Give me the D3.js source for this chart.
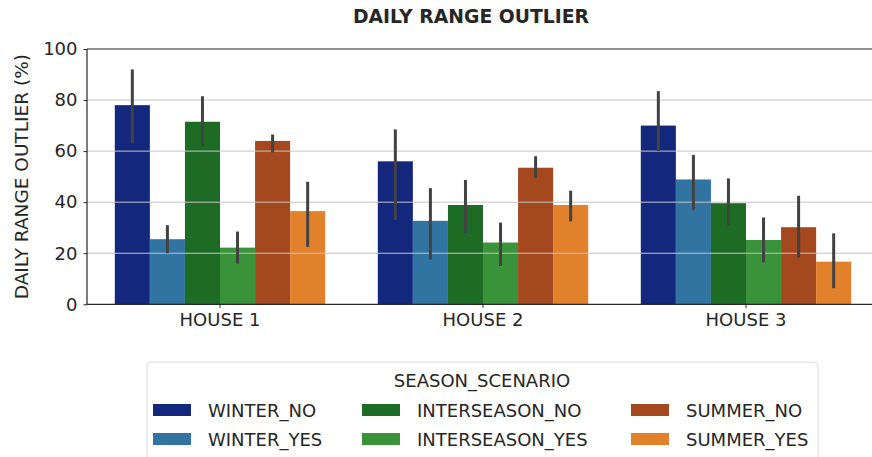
<!DOCTYPE html>
<html><head><meta charset="utf-8">
<script src="https://cdn.jsdelivr.net/npm/d3@7"></script>
<style>body{margin:0;background:#fff;} svg{display:block;} text{font-family:"DejaVu Sans",sans-serif;fill:#262626;}</style>
</head><body>
<svg id="chart" width="872" height="457"></svg>
<script>
const houses = ["HOUSE 1", "HOUSE 2", "HOUSE 3"];
const scenarios = ["WINTER_NO", "WINTER_YES", "INTERSEASON_NO", "INTERSEASON_YES", "SUMMER_NO", "SUMMER_YES"];
const colors = ["#13287c", "#3274a1", "#1e6b26", "#3a923a", "#a3481f", "#e1812c"];
const winterNo = [78, 56, 70];
const winterYes = [25.5, 32.7, 48.9];
const interseasonNo = [71.5, 38.9, 39.6];
const interseasonYes = [22.2, 24.2, 25.2];
const summerNo = [64, 53.5, 30.2];
const summerYes = [36.5, 38.9, 16.7];
const winterNoCI = [[63, 92], [33, 68.5], [60, 83.5]];
const winterYesCI = [[20, 31], [17.5, 45.5], [37, 58.5]];
const interseasonNoCI = [[62, 81.5], [28, 48.7], [31, 49.3]];
const interseasonYesCI = [[16, 28.5], [15, 32], [16.5, 34]];
const summerNoCI = [[59.5, 66.5], [49.5, 58], [18.3, 42.5]];
const summerYesCI = [[22.5, 48], [32.5, 44.5], [6.3, 27.8]];
const yTicks = [0, 20, 40, 60, 80, 100];

const seriesVals = [winterNo, winterYes, interseasonNo, interseasonYes, summerNo, summerYes];
const seriesCI = [winterNoCI, winterYesCI, interseasonNoCI, interseasonYesCI, summerNoCI, summerYesCI];
const data = [];
houses.forEach((h, i) => scenarios.forEach((s, j) => {
  data.push({house: h, scen: s, v: seriesVals[j][i], lo: seriesCI[j][i][0], hi: seriesCI[j][i][1], c: colors[j]});
}));

const svg = d3.select("#chart");
const L = 87, T = 49, B = 304.3;
const x = d3.scaleBand().domain(houses).range([88.5, 877.5]).paddingInner(0).paddingOuter(0);
const groupW = x.bandwidth() * 0.8;
const xs = d3.scaleBand().domain(scenarios).range([0, groupW]);
const y = d3.scaleLinear().domain([0, 100]).range([B, T]);
const cx = d => x(d.house) + (x.bandwidth() - groupW) / 2 + xs(d.scen);

// bars
svg.append("g").selectAll("rect").data(data).join("rect")
  .attr("x", d => cx(d))
  .attr("y", d => y(d.v))
  .attr("width", xs.bandwidth())
  .attr("height", d => y(0) - y(d.v))
  .attr("fill", d => d.c);

// grid
svg.append("g").selectAll("line").data(yTicks.filter(t => t > 0 && t < 100)).join("line")
  .attr("x1", L).attr("x2", 872).attr("y1", d => y(d)).attr("y2", d => y(d))
  .attr("stroke", "#c4c4c4").attr("stroke-width", 1);

// error bars
svg.append("g").selectAll("line").data(data).join("line")
  .attr("x1", d => cx(d) + xs.bandwidth() / 2)
  .attr("x2", d => cx(d) + xs.bandwidth() / 2)
  .attr("y1", d => y(d.lo)).attr("y2", d => y(d.hi))
  .attr("stroke", "#424242").attr("stroke-width", 3);

// axes
const yAxis = svg.append("g").attr("transform", `translate(${L},0)`)
  .call(d3.axisLeft(y).tickValues(yTicks).tickSize(3.5).tickPadding(6));
yAxis.select(".domain").remove();
yAxis.selectAll("text").style("font-size", "18px").attr("fill", "#262626");
yAxis.selectAll("line").attr("stroke", "#262626");

const xAxis = svg.append("g").attr("transform", `translate(0,${B})`)
  .call(d3.axisBottom(x).tickSize(3.5).tickPadding(5));
xAxis.select(".domain").remove();
xAxis.selectAll("text").style("font-size", "18px").attr("fill", "#262626");
xAxis.selectAll("line").attr("stroke", "#262626");

// spines
svg.append("line").attr("x1", L).attr("x2", L).attr("y1", T).attr("y2", B).attr("stroke", "#262626").attr("stroke-width", 1.2);
svg.append("line").attr("x1", L).attr("x2", 872).attr("y1", T).attr("y2", T).attr("stroke", "#262626").attr("stroke-width", 1.2);
svg.append("line").attr("x1", L).attr("x2", 872).attr("y1", B).attr("y2", B).attr("stroke", "#262626").attr("stroke-width", 1.2);

// title & labels
svg.append("text").attr("x", 471).attr("y", 23).attr("text-anchor", "middle")
  .style("font-size", "18.8px").style("font-weight", "bold").text("DAILY RANGE OUTLIER");
svg.append("text").attr("transform", `translate(28,${(T + B) / 2}) rotate(-90)`).attr("text-anchor", "middle")
  .style("font-size", "18.5px").text("DAILY RANGE OUTLIER (%)");

// legend
const lg = svg.append("g");
lg.append("rect").attr("x", 147).attr("y", 362).attr("width", 671).attr("height", 120).attr("rx", 4)
  .attr("fill", "#fff").attr("stroke", "#dcdcdc").attr("stroke-width", 1);
lg.append("text").attr("x", 482).attr("y", 387).attr("text-anchor", "middle").style("font-size", "18px").text("SEASON_SCENARIO");
const colX = [153, 362, 631];
const rowY = [410, 439];
scenarios.forEach((s, j) => {
  const col = Math.floor(j / 2), row = j % 2;
  lg.append("rect").attr("x", colX[col]).attr("y", rowY[row] - 6).attr("width", 38).attr("height", 12).attr("fill", colors[j]);
  lg.append("text").attr("x", colX[col] + 55).attr("y", rowY[row] + 6.5).style("font-size", "18px").text(s);
});
</script>
</body></html>
